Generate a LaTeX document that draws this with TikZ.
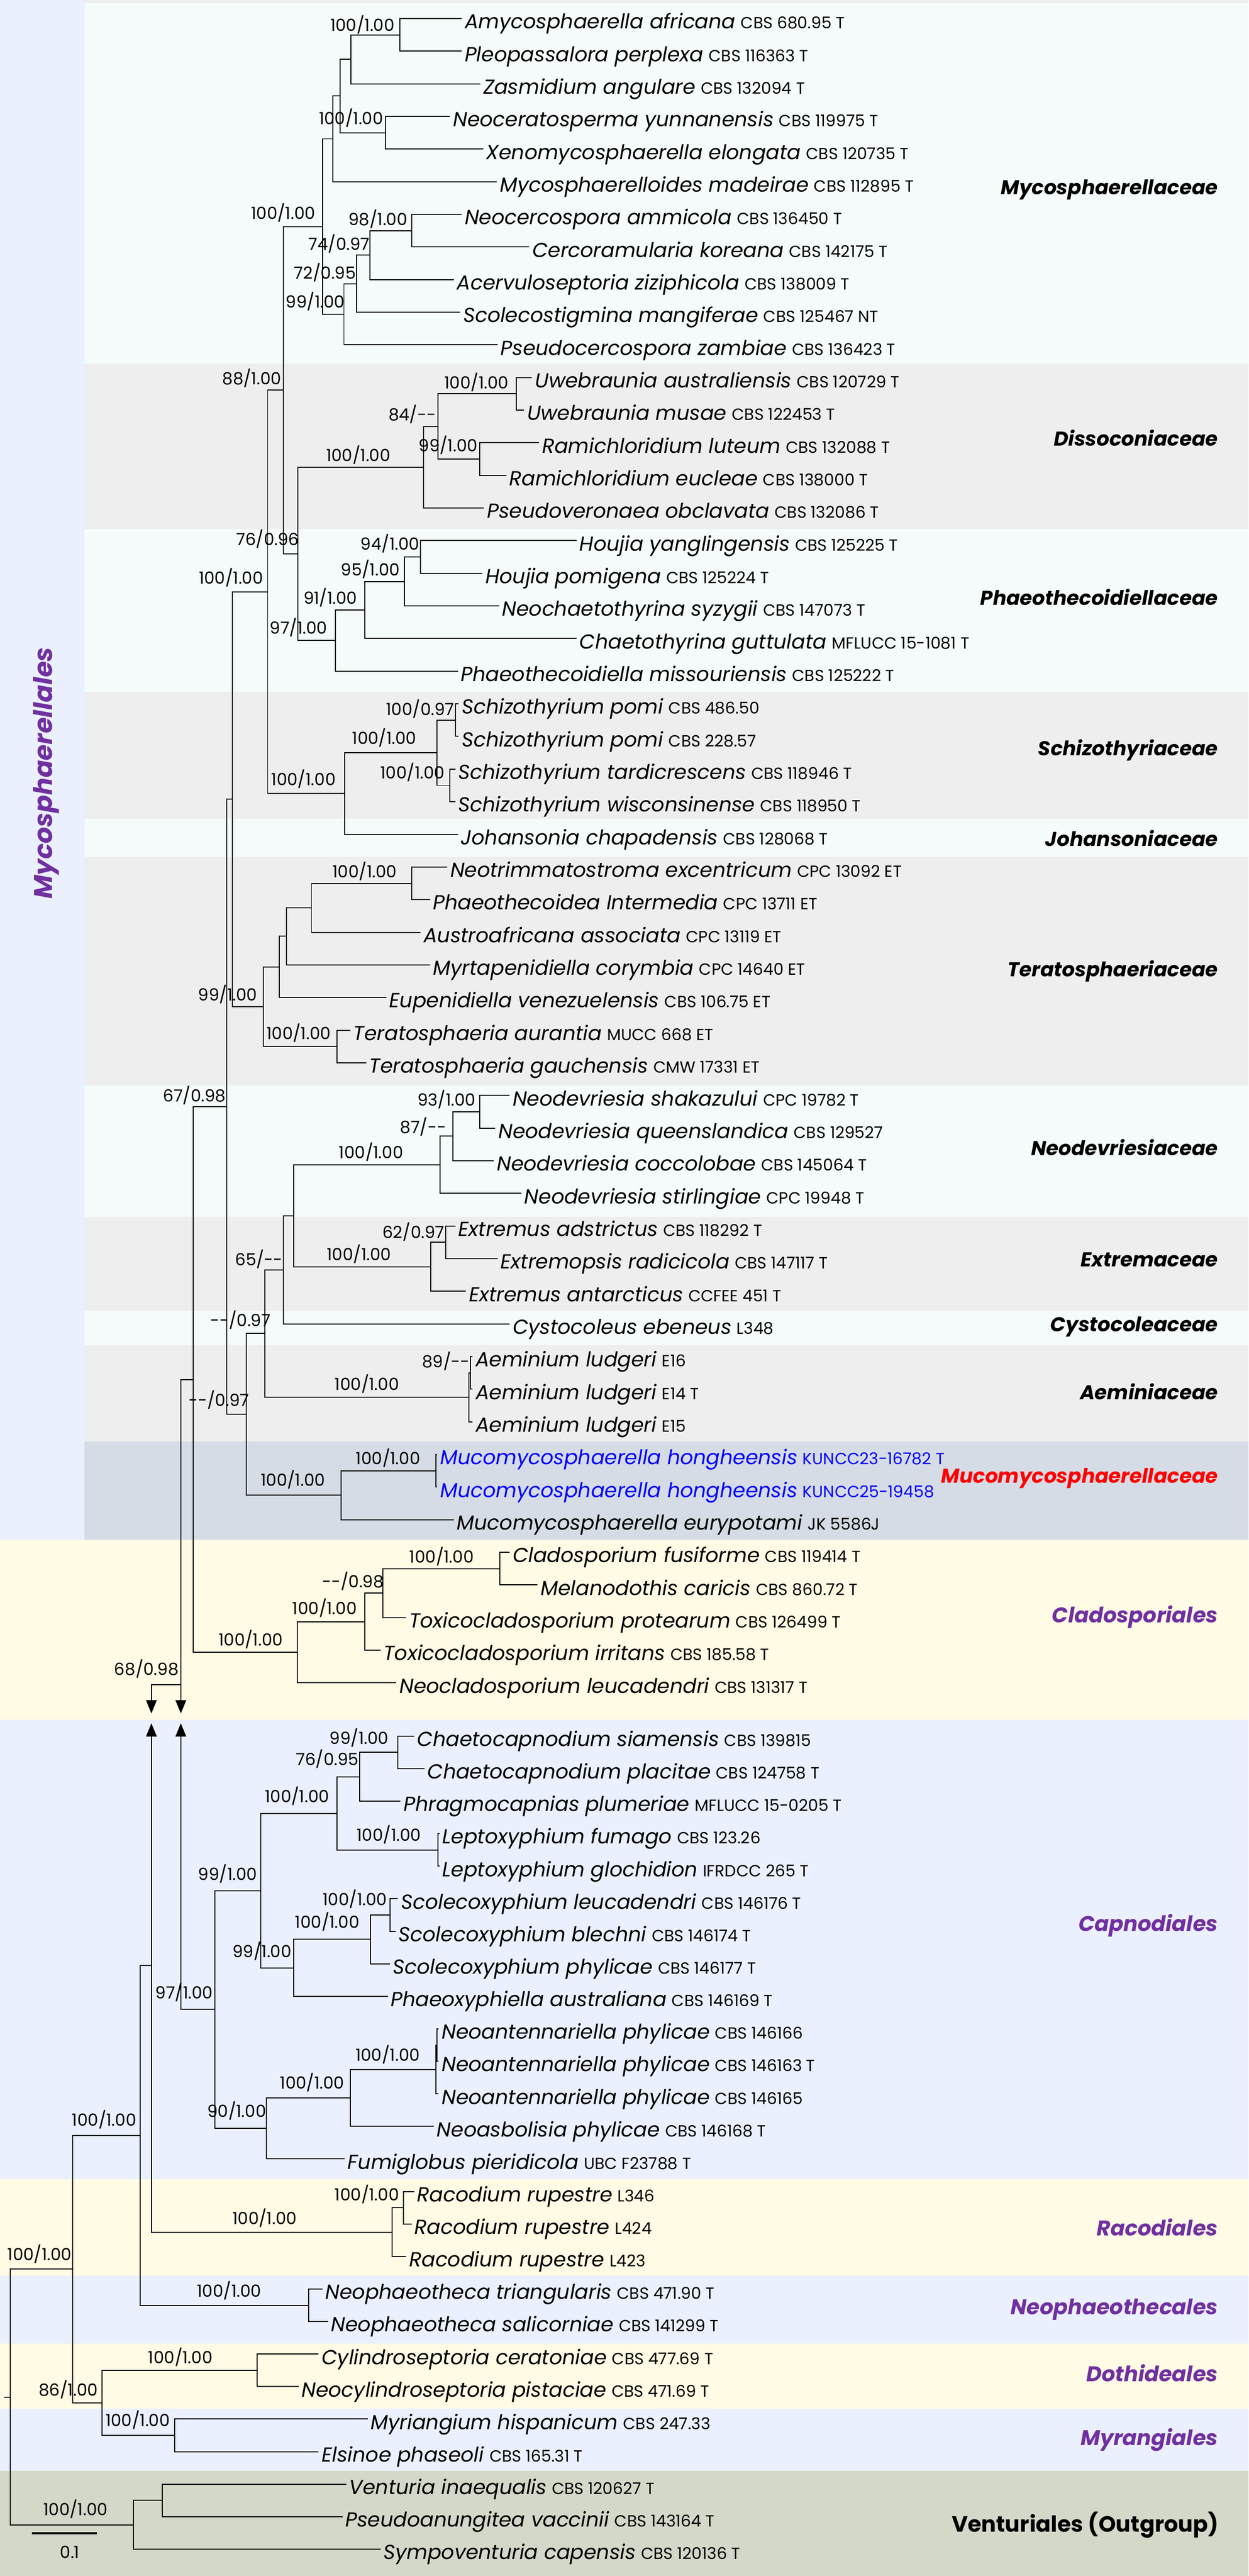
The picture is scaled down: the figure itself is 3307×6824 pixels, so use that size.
\documentclass[tikz,border=0pt]{standalone}
\usepackage{fontspec}
\setmainfont{Poppins}
\usetikzlibrary{calc,arrows.meta}
\definecolor{bgcyan}{HTML}{F5FAFA}
\definecolor{bggray}{HTML}{EEEEEE}
\definecolor{bglav}{HTML}{EAF0FE}
\definecolor{bgmuco}{HTML}{D6DCE5}
\definecolor{bgyel}{HTML}{FFFBE4}
\definecolor{bgblue}{HTML}{EBF0FE}
\definecolor{bgvent}{HTML}{D4D8C8}
\definecolor{ordpurple}{HTML}{7030A0}
\definecolor{mucoblue}{HTML}{0000FF}
\definecolor{famred}{HTML}{FF0000}
\newlength\mycal
\newcommand{\calsize}[3]{\settowidth\mycal{\fontsize{100}{100}\selectfont #2}\pgfmathsetmacro#1{#3/\mycal*100}\global\let#1#1}
\AtBeginDocument{%
\calsize{\taxsize}{\itshape Amycosphaerella africana}{717}%
\calsize{\strsize}{CBS 112895 T}{264}%
\calsize{\labsize}{100/1.00}{170}%
\calsize{\famsize}{\bfseries\itshape Mycosphaerellaceae}{575}%
\calsize{\ordsize}{\bfseries\itshape Cladosporiales}{439}%
\calsize{\outsize}{\bfseries Venturiales (Outgroup)}{707}%
\calsize{\mysize}{\bfseries\itshape Mycosphaerellales}{667}%
}
\newcommand{\dashes}{\mbox{-}\mbox{-}}
\newcommand{\mytaxon}[2]{{\fontsize{\taxsize}{\taxsize}\selectfont\itshape #1\/}\hspace{14pt}{\fontsize{\strsize}{\strsize}\selectfont #2}}
\newcommand{\mytip}[5]{\coordinate (t#1) at (#2,#3);\node[taxn] (lt#1) at (t#1) {\mytaxon{#4}{#5}};}
\newcommand{\mytipb}[5]{\coordinate (t#1) at (#2,#3);\node[taxn,text=mucoblue] (lt#1) at (t#1) {\mytaxon{#4}{#5}};}
\newcommand{\mkclade}[4]{\path let \p1=(#3), \p2=(#4) in (#2pt,{0.5*(\y1+\y2)}) coordinate (#1);\draw[branch] (#3) -| (#1) |- (#4);}
\begin{document}
\begin{tikzpicture}[x=1pt,y=-1pt,
  branch/.style={line width=2.7pt, line join=miter, black},
  taxn/.style={anchor=base west, xshift=8pt, yshift=-27pt, inner sep=0pt},
  lab/.style={inner sep=0pt, font=\fontsize{\labsize}{\labsize}\selectfont},
  fam/.style={anchor=east, inner sep=0pt, font=\fontsize{\famsize}{\famsize}\selectfont\bfseries\itshape},
  ord/.style={anchor=east, inner sep=0pt, text=ordpurple, font=\fontsize{\ordsize}{\ordsize}\selectfont\bfseries\itshape},
  outg/.style={anchor=east, inner sep=0pt, font=\fontsize{\outsize}{\outsize}\selectfont\bfseries},
  mycol/.style={inner sep=0pt, text=ordpurple, rotate=90, font=\fontsize{\mysize}{\mysize}\selectfont\bfseries\itshape},
  tipar/.style={-{Triangle[length=35pt,width=28pt]}},
  tipra/.style={{Triangle[length=35pt,width=28pt]}-}]
\useasboundingbox (0,0) rectangle (3307,6824);
% background bands
\fill[bglav] (0,0) rectangle (224,4080);
\fill[bggray] (224,0) rectangle (3307,8);
\fill[bgcyan] (224,8) rectangle (3307,963);
\fill[bggray] (224,963) rectangle (3307,1401);
\fill[bgcyan] (224,1401) rectangle (3307,1833);
\fill[bggray] (224,1833) rectangle (3307,2168);
\fill[bgcyan] (224,2168) rectangle (3307,2270);
\fill[bggray] (224,2270) rectangle (3307,2875);
\fill[bgcyan] (224,2875) rectangle (3307,3224);
\fill[bggray] (224,3224) rectangle (3307,3474);
\fill[bgcyan] (224,3474) rectangle (3307,3564);
\fill[bggray] (224,3564) rectangle (3307,3818);
\fill[bgmuco] (224,3818) rectangle (3307,4080);
\fill[bgyel] (0,4080) rectangle (3307,4555);
\fill[bgblue] (0,4555) rectangle (3307,5773);
\fill[bgyel] (0,5773) rectangle (3307,6028);
\fill[bgblue] (0,6028) rectangle (3307,6208);
\fill[bgyel] (0,6208) rectangle (3307,6380);
\fill[bgblue] (0,6380) rectangle (3307,6546);
\fill[bgvent] (0,6546) rectangle (3307,6824);
% tips
\mytip{1}{1223}{49.0}{Amycosphaerella africana}{CBS 680.95 T}
\mytip{2}{1223}{135.5}{Pleopassalora perplexa}{CBS 116363 T}
\mytip{3}{1272}{221.9}{Zasmidium angulare}{CBS 132094 T}
\mytip{4}{1192}{308.4}{Neoceratosperma yunnanensis}{CBS 119975 T}
\mytip{5}{1280}{394.8}{Xenomycosphaerella elongata}{CBS 120735 T}
\mytip{6}{1316}{481.3}{Mycosphaerelloides madeirae}{CBS 112895 T}
\mytip{7}{1223}{567.7}{Neocercospora ammicola}{CBS 136450 T}
\mytip{8}{1402}{654.2}{Cercoramularia koreana}{CBS 142175 T}
\mytip{9}{1202}{740.6}{Acervuloseptoria ziziphicola}{CBS 138009 T}
\mytip{10}{1219}{827.1}{Scolecostigmina mangiferae}{CBS 125467 NT}
\mytip{11}{1318}{913.5}{Pseudocercospora zambiae}{CBS 136423 T}
\mytip{12}{1409}{1000.0}{Uwebraunia australiensis}{CBS 120729 T}
\mytip{13}{1388}{1086.4}{Uwebraunia musae}{CBS 122453 T}
\mytip{14}{1428}{1172.9}{Ramichloridium luteum}{CBS 132088 T}
\mytip{15}{1341}{1259.3}{Ramichloridium eucleae}{CBS 138000 T}
\mytip{16}{1282}{1345.8}{Pseudoveronaea obclavata}{CBS 132086 T}
\mytip{17}{1527}{1432.2}{Houjia yanglingensis}{CBS 125225 T}
\mytip{18}{1278}{1518.7}{Houjia pomigena}{CBS 125224 T}
\mytip{19}{1322}{1605.1}{Neochaetothyrina syzygii}{CBS 147073 T}
\mytip{20}{1527}{1691.6}{Chaetothyrina guttulata}{MFLUCC 15-1081 T}
\mytip{21}{1213}{1778.0}{Phaeothecoidiella missouriensis}{CBS 125222 T}
\mytip{22}{1215}{1864.5}{Schizothyrium pomi}{CBS 486.50}
\mytip{23}{1215}{1950.9}{Schizothyrium pomi}{CBS 228.57}
\mytip{24}{1206}{2037.4}{Schizothyrium tardicrescens}{CBS 118946 T}
\mytip{25}{1206}{2123.8}{Schizothyrium wisconsinense}{CBS 118950 T}
\mytip{26}{1213}{2210.3}{Johansonia chapadensis}{CBS 128068 T}
\mytip{27}{1185}{2296.7}{Neotrimmatostroma excentricum}{CPC 13092 ET}
\mytip{28}{1139}{2383.2}{Phaeothecoidea Intermedia}{CPC 13711 ET}
\mytip{29}{1114}{2469.6}{Austroafricana associata}{CPC 13119 ET}
\mytip{30}{1139}{2556.1}{Myrtapenidiella corymbia}{CPC 14640 ET}
\mytip{31}{1023}{2642.5}{Eupenidiella venezuelensis}{CBS 106.75 ET}
\mytip{32}{928}{2729.0}{Teratosphaeria aurantia}{MUCC 668 ET}
\mytip{33}{970}{2815.4}{Teratosphaeria gauchensis}{CMW 17331 ET}
\mytip{34}{1350}{2901.9}{Neodevriesia shakazului}{CPC 19782 T}
\mytip{35}{1312}{2988.3}{Neodevriesia queenslandica}{CBS 129527}
\mytip{36}{1308}{3074.8}{Neodevriesia coccolobae}{CBS 145064 T}
\mytip{37}{1381}{3161.2}{Neodevriesia stirlingiae}{CPC 19948 T}
\mytip{38}{1206}{3247.7}{Extremus adstrictus}{CBS 118292 T}
\mytip{39}{1318}{3334.1}{Extremopsis radicicola}{CBS 147117 T}
\mytip{40}{1234}{3420.6}{Extremus antarcticus}{CCFEE 451 T}
\mytip{41}{1350}{3507.0}{Cystocoleus ebeneus}{L348}
\mytip{42}{1252}{3593.5}{Aeminium ludgeri}{E16}
\mytip{43}{1252}{3679.9}{Aeminium ludgeri}{E14 T}
\mytip{44}{1252}{3766.4}{Aeminium ludgeri}{E15}
\mytipb{45}{1158}{3852.8}{Mucomycosphaerella hongheensis}{KUNCC23-16782 T}
\mytipb{46}{1158}{3939.3}{Mucomycosphaerella hongheensis}{KUNCC25-19458}
\mytip{47}{1202}{4025.7}{Mucomycosphaerella eurypotami}{JK 5586J}
\mytip{48}{1350}{4112.2}{Cladosporium fusiforme}{CBS 119414 T}
\mytip{49}{1424}{4198.6}{Melanodothis caricis}{CBS 860.72 T}
\mytip{50}{1076}{4285.1}{Toxicocladosporium protearum}{CBS 126499 T}
\mytip{51}{1008}{4371.5}{Toxicocladosporium irritans}{CBS 185.58 T}
\mytip{52}{1050}{4458.0}{Neocladosporium leucadendri}{CBS 131317 T}
\mytip{53}{1097}{4599.0}{Chaetocapnodium siamensis}{CBS 139815}
\mytip{54}{1124}{4685.2}{Chaetocapnodium placitae}{CBS 124758 T}
\mytip{55}{1061}{4771.3}{Phragmocapnias plumeriae}{MFLUCC 15-0205 T}
\mytip{56}{1164}{4857.5}{Leptoxyphium fumago}{CBS 123.26}
\mytip{57}{1164}{4943.6}{Leptoxyphium glochidion}{IFRDCC 265 T}
\mytip{58}{1054}{5029.8}{Scolecoxyphium leucadendri}{CBS 146176 T}
\mytip{59}{1048}{5116.0}{Scolecoxyphium blechni}{CBS 146174 T}
\mytip{60}{1033}{5202.1}{Scolecoxyphium phylicae}{CBS 146177 T}
\mytip{61}{1027}{5288.3}{Phaeoxyphiella australiana}{CBS 146169 T}
\mytip{62}{1162}{5374.4}{Neoantennariella phylicae}{CBS 146166}
\mytip{63}{1162}{5460.6}{Neoantennariella phylicae}{CBS 146163 T}
\mytip{64}{1162}{5546.8}{Neoantennariella phylicae}{CBS 146165}
\mytip{65}{1149}{5632.9}{Neoasbolisia phylicae}{CBS 146168 T}
\mytip{66}{913}{5719.1}{Fumiglobus pieridicola}{UBC F23788 T}
\mytip{67}{1097}{5805.2}{Racodium rupestre}{L346}
\mytip{68}{1090}{5891.4}{Racodium rupestre}{L424}
\mytip{69}{1076}{5977.6}{Racodium rupestre}{L423}
\mytip{70}{854}{6063.7}{Neophaeotheca triangularis}{CBS 471.90 T}
\mytip{71}{869}{6149.9}{Neophaeotheca salicorniae}{CBS 141299 T}
\mytip{72}{844}{6236.0}{Cylindroseptoria ceratoniae}{CBS 477.69 T}
\mytip{73}{791}{6322.2}{Neocylindroseptoria pistaciae}{CBS 471.69 T}
\mytip{74}{974}{6408.3}{Myriangium hispanicum}{CBS 247.33}
\mytip{75}{844}{6494.5}{Elsinoe phaseoli}{CBS 165.31 T}
\mytip{76}{917}{6580.7}{Venturia inaequalis}{CBS 120627 T}
\mytip{77}{907}{6666.8}{Pseudoanungitea vaccinii}{CBS 143164 T}
\mytip{78}{1008}{6753.0}{Sympoventuria capensis}{CBS 120136 T}
% clades
\mkclade{a1}{1059}{t1}{t2}
\mkclade{a2}{930}{a1}{t3}
\mkclade{a3}{1021}{t4}{t5}
\mkclade{a4}{901}{a2}{a3}
\mkclade{a5}{882}{a4}{t6}
\mkclade{a6}{1090}{t7}{t8}
\mkclade{a7}{980}{a6}{t9}
\mkclade{a8}{945}{a7}{t10}
\mkclade{a9}{911}{a8}{t11}
\mkclade{a10}{854}{a5}{a9}
\mkclade{d1}{1367}{t12}{t13}
\mkclade{d2}{1270}{t14}{t15}
\mkclade{d3}{1160}{d1}{d2}
\mkclade{d4}{1122}{d3}{t16}
\mkclade{p1}{1114}{t17}{t18}
\mkclade{p2}{1071}{p1}{t19}
\mkclade{p3}{966}{p2}{t20}
\mkclade{p4}{888}{p3}{t21}
\mkclade{b1}{789}{d4}{p4}
\mkclade{b2}{751}{a10}{b1}
\mkclade{s1}{1207}{t22}{t23}
\mkclade{s2}{1192}{t24}{t25}
\mkclade{s3}{1158}{s1}{s2}
\mkclade{s4}{913}{s3}{t26}
\mkclade{b3}{709}{b2}{s4}
\mkclade{r1}{1090}{t27}{t28}
\mkclade{r2}{825}{r1}{t29}
\mkclade{r3}{759}{r2}{t30}
\mkclade{r4}{740}{r3}{t31}
\mkclade{r5}{892}{t32}{t33}
\mkclade{r6}{698}{r4}{r5}
\mkclade{b4}{616}{b3}{r6}
\mkclade{n1}{1270}{t34}{t35}
\mkclade{n2}{1200}{n1}{t36}
\mkclade{n3}{1166}{n2}{t37}
\mkclade{e1}{1181}{t38}{t39}
\mkclade{e2}{1141}{e1}{t40}
\mkclade{e3}{778}{n3}{e2}
\mkclade{e4}{751}{e3}{t41}
\mkclade{am1}{1246}{t42}{t43}
\mkclade{am}{1242}{am1}{t44}
\mkclade{e5}{702}{e4}{am}
\mkclade{m1}{1154}{t45}{t46}
\mkclade{m2}{903}{m1}{t47}
\mkclade{e6}{652}{e5}{m2}
\mkclade{b5}{601}{b4}{e6}
\mkclade{c1}{1324}{t48}{t49}
\mkclade{c2}{1014}{c1}{t50}
\mkclade{c3}{966}{c2}{t51}
\mkclade{c4}{787}{c3}{t52}
\mkclade{b6}{512}{b5}{c4}
\mkclade{k1}{1054}{t53}{t54}
\mkclade{k2}{953}{k1}{t55}
\mkclade{k3}{1160}{t56}{t57}
\mkclade{k4}{892}{k2}{k3}
\mkclade{k5}{1033}{t58}{t59}
\mkclade{k6}{981}{k5}{t60}
\mkclade{k7}{778}{k6}{t61}
\mkclade{k8}{690}{k4}{k7}
\mkclade{k9a}{1158}{t62}{t63}
\mkclade{k9}{1154}{k9a}{t64}
\mkclade{k10}{928}{k9}{t65}
\mkclade{k11}{706}{k10}{t66}
\mkclade{k12}{569}{k8}{k11}
\coordinate (b7) at (479,4463);
\coordinate (gt) at (0,4539);
\coordinate (gb) at (0,4565);
\draw[branch] (b7) |- (b6);
\draw[branch,tipar] (b7) -- (b7 |- gt);
\draw[branch,tipra] (b7 |- gb) |- (k12);
\mkclade{rc1}{1069}{t67}{t68}
\mkclade{rc2}{1038}{rc1}{t69}
\coordinate (b8) at (401,5207);
\draw[branch,tipar] (b7) -| (b8 |- gt);
\draw[branch,tipra] (b8 |- gb) |- (rc2);
\mkclade{ne1}{818}{t70}{t71}
\mkclade{b9}{371}{b8}{ne1}
\mkclade{do1}{681}{t72}{t73}
\mkclade{my1}{462}{t74}{t75}
\mkclade{b10}{270}{do1}{my1}
\mkclade{b11}{192}{b9}{b10}
\mkclade{v1}{430}{t76}{t77}
\mkclade{v2}{354}{v1}{t78}
\mkclade{root}{27}{b11}{v2}
\coordinate (rootend) at (11,0);
\draw[branch] (root) -- (root -| rootend);
% scale bar
\coordinate (sb1) at (84,6711);
\coordinate (sb2) at (257,6711);
\draw[line width=6pt] (sb1) -- (sb2);
\node[lab] (sbl) at (185,6761) {0.1};
% support values
\node[lab] (L1) at (960,66) {100/1.00};
\node[lab] (L2) at (930,313) {100/1.00};
\node[lab] (L3) at (750,563) {100/1.00};
\node[lab] (L4) at (1001,580) {98/1.00};
\node[lab] (L5) at (898,645) {74/0.97};
\node[lab] (L6) at (861,722) {72/0.95};
\node[lab] (L7) at (835,798) {99/1.00};
\node[lab] (L8) at (667,1002) {88/1.00};
\node[lab] (L9) at (1262,1012) {100/1.00};
\node[lab] (L10) at (1092,1097) {84/\dashes};
\node[lab] (L11) at (1187,1179) {99/1.00};
\node[lab] (L12) at (949,1205) {100/1.00};
\node[lab] (L13) at (709,1428) {76/0.96};
\node[lab] (L14) at (1033,1440) {94/1.00};
\node[lab] (L15) at (981,1508) {95/1.00};
\node[lab] (L16) at (612,1530) {100/1.00};
\node[lab] (L17) at (875,1583) {91/1.00};
\node[lab] (L18) at (791,1662) {97/1.00};
\node[lab] (L19) at (1113,1878) {100/0.97};
\node[lab] (L20) at (1018,1955) {100/1.00};
\node[lab] (L21) at (1093,2046) {100/1.00};
\node[lab] (L22) at (804,2064) {100/1.00};
\node[lab] (L23) at (966,2308) {100/1.00};
\node[lab] (L24) at (603,2634) {99/1.00};
\node[lab] (L25) at (791,2737) {100/1.00};
\node[lab] (L26) at (515,2902) {67/0.98};
\node[lab] (L27) at (1183,2913) {93/1.00};
\node[lab] (L28) at (1121,2985) {87/\dashes};
\node[lab] (L29) at (983,3052) {100/1.00};
\node[lab] (L30) at (1095,3263) {62/0.97};
\node[lab] (L31) at (951,3322) {100/1.00};
\node[lab] (L32) at (686,3336) {65/\dashes};
\node[lab] (L33) at (637,3497) {\dashes/0.97};
\node[lab] (L34) at (1181,3606) {89/\dashes};
\node[lab] (L35) at (972,3666) {100/1.00};
\node[lab] (L36) at (580,3708) {\dashes/0.97};
\node[lab] (L37) at (1028,3862) {100/1.00};
\node[lab] (L38) at (776,3920) {100/1.00};
\node[lab] (L39) at (1170,4123) {100/1.00};
\node[lab] (L40) at (935,4188) {\dashes/0.98};
\node[lab] (L41) at (860,4259) {100/1.00};
\node[lab] (L42) at (664,4343) {100/1.00};
\node[lab] (L43) at (388,4421) {68/0.98};
\node[lab] (L44) at (951,4604) {99/1.00};
\node[lab] (L45) at (867,4660) {76/0.95};
\node[lab] (L46) at (787,4757) {100/1.00};
\node[lab] (L47) at (1030,4860) {100/1.00};
\node[lab] (L48) at (603,4964) {99/1.00};
\node[lab] (L49) at (940,5030) {100/1.00};
\node[lab] (L50) at (867,5091) {100/1.00};
\node[lab] (L51) at (694,5168) {99/1.00};
\node[lab] (L52) at (488,5277) {97/1.00};
\node[lab] (L53) at (1027,5443) {100/1.00};
\node[lab] (L54) at (827,5517) {100/1.00};
\node[lab] (L55) at (627,5592) {90/1.00};
\node[lab] (L56) at (276,5615) {100/1.00};
\node[lab] (L57) at (972,5812) {100/1.00};
\node[lab] (L58) at (701,5876) {100/1.00};
\node[lab] (L59) at (105,5971) {100/1.00};
\node[lab] (L60) at (607,6068) {100/1.00};
\node[lab] (L61) at (478,6244) {100/1.00};
\node[lab] (L62) at (181,6330) {86/1.00};
\node[lab] (L63) at (365,6410) {100/1.00};
\node[lab] (L64) at (200,6646) {100/1.00};
% family and order labels
\node[fam] (F1) at (3226,503) {Mycosphaerellaceae};
\node[fam] (F2) at (3226,1160) {Dissoconiaceae};
\node[fam] (F3) at (3226,1582) {Phaeothecoidiellaceae};
\node[fam] (F4) at (3226,1987) {Schizothyriaceae};
\node[fam] (F5) at (3226,2220) {Johansoniaceae};
\node[fam] (F6) at (3226,2573) {Teratosphaeriaceae};
\node[fam] (F7) at (3226,3040) {Neodevriesiaceae};
\node[fam] (F8) at (3226,3337) {Extremaceae};
\node[fam] (F9) at (3226,3514) {Cystocoleaceae};
\node[fam] (F10) at (3226,3687) {Aeminiaceae};
\node[fam,text=famred] (F11) at (3226,3916) {Mucomycosphaerellaceae};
\node[ord] (O1) at (3226,4283) {Cladosporiales};
\node[ord] (O2) at (3226,5101) {Capnodiales};
\node[ord] (O3) at (3226,5900) {Racodiales};
\node[ord] (O4) at (3226,6118) {Neophaeothecales};
\node[ord] (O5) at (3226,6286) {Dothideales};
\node[ord] (O6) at (3226,6463) {Myrangiales};
\node[outg] (O7) at (3228,6688) {Venturiales (Outgroup)};
\node[mycol] (O0) at (122,2048) {Mycosphaerellales};
\end{tikzpicture}
\end{document}
